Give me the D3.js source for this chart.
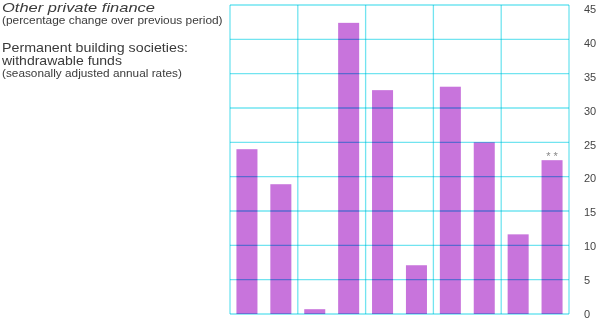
<!DOCTYPE html>
<html>
<head>
<meta charset="utf-8">
<script src="https://cdn.jsdelivr.net/npm/d3@7"></script>
<style>
    body { margin: 0; background: #fff; }
    svg { display: block; font-family: "Liberation Sans", Arial, sans-serif; }
    .grid line { mix-blend-mode: multiply; }
</style>
</head>
<body>
<svg id="chart" width="600" height="321"></svg>
<script>
// data
var periods = ["p1", "p2", "p3", "p4", "p5", "p6", "p7", "p8", "p9", "p10"];
var growth = [24.0, 18.9, 0.7, 42.4, 32.6, 7.1, 33.1, 25.0, 11.6, 22.4];
var yTicks = [0, 5, 10, 15, 20, 25, 30, 35, 40, 45];
var columns = [0, 1, 2, 3, 4, 5];

var svg = d3.select("#chart");
var plot = { left: 230, right: 569, top: 5, bottom: 314 };

var x = d3.scaleBand()
    .domain(periods)
    .range([plot.left, plot.right])
    .paddingInner(0.38)
    .paddingOuter(0.19);

var y = d3.scaleLinear().domain([0, 45]).range([plot.bottom, plot.top]);
// the printed labels sit a little lower at the top than the grid
var yLab = d3.scaleLinear().domain([0, 45]).range([plot.bottom, 9]);
var colX = d3.scaleLinear().domain([0, 5]).range([plot.left, plot.right]);

// titles: the print face is wide, so stretch each line to its printed width
function title(str, base, size, width, italic) {
    var t = svg.append("text")
        .attr("font-size", size)
        .attr("fill", "#3a3a3a")
        .attr("font-style", italic ? "italic" : null)
        .text(str);
    var w = t.node().getComputedTextLength();
    t.attr("transform", "translate(2," + base + ") scale(" + (width / w) + ",1)");
}
title("Other private finance", 12, 13.6, 153, true);
title("(percentage change over previous period)", 23.5, 11, 221);
title("Permanent building societies:", 51.5, 12.2, 186);
title("withdrawable funds", 65, 12.2, 120);
title("(seasonally adjusted annual rates)", 77, 11, 180);

// bars
svg.append("g")
    .selectAll("rect")
    .data(growth)
    .enter().append("rect")
    .attr("x", function (d, i) { return x(periods[i]); })
    .attr("width", x.bandwidth())
    .attr("y", function (d) { return y(d); })
    .attr("height", function (d) { return y(0) - y(d); })
    .attr("fill", "#c874dc");

// grid on top, multiplied so it turns blue over the bars
var grid = svg.append("g").attr("class", "grid")
    .attr("stroke", "#72e4f0").attr("stroke-width", 1.3);
grid.selectAll("line.h")
    .data(yTicks)
    .enter().append("line").attr("class", "h")
    .attr("x1", plot.left).attr("x2", plot.right)
    .attr("y1", function (d) { return y(d); })
    .attr("y2", function (d) { return y(d); });
grid.selectAll("line.v")
    .data(columns)
    .enter().append("line").attr("class", "v")
    .attr("y1", plot.top).attr("y2", plot.bottom)
    .attr("x1", function (d) { return colX(d); })
    .attr("x2", function (d) { return colX(d); });

// right axis labels
var yAxis = d3.axisRight(yLab).tickValues(yTicks).tickSize(0).tickPadding(0);
var ax = svg.append("g")
    .attr("transform", "translate(584,0)")
    .call(yAxis);
ax.select(".domain").remove();
ax.selectAll("text")
    .attr("font-size", 11)
    .attr("font-family", "Liberation Sans, Arial, sans-serif")
    .attr("fill", "#444");

// ** marker on the last bar
var last = periods.length - 1;
svg.append("text")
    .attr("x", x(periods[last]) + x.bandwidth() / 2)
    .attr("y", y(growth[last]) - 0.5)
    .attr("text-anchor", "middle")
    .attr("font-size", 11)
    .attr("fill", "#888")
    .text("* *");
</script>
</body>
</html>
